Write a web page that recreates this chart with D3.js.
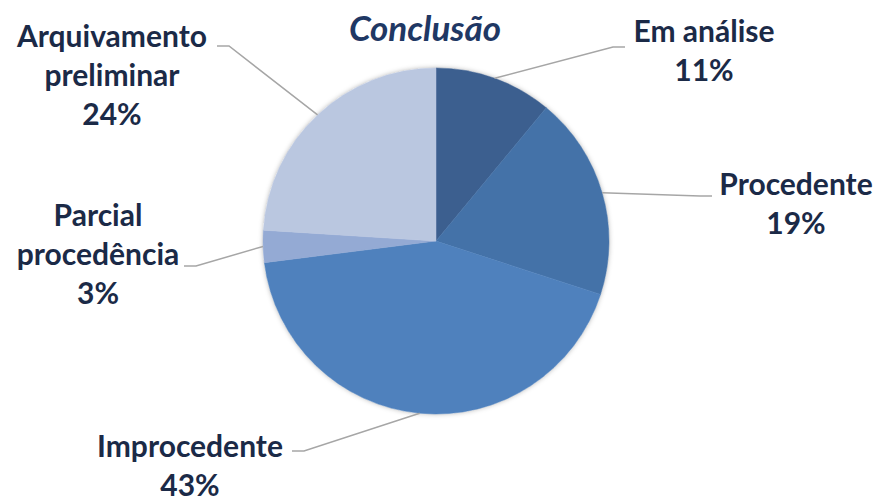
<!DOCTYPE html>
<html>
<head>
<meta charset="utf-8">
<script src="https://cdn.jsdelivr.net/npm/d3@7"></script>
<style>
  body { margin: 0; background: #fff; }
  text { font-family: "Lato", "Open Sans", sans-serif; }
</style>
</head>
<body>
<svg id="chart" width="880" height="502"></svg>
<script>
const WIDTH = 880;
const HEIGHT = 502;

// values, clockwise from 12 o'clock
const categories = ["Em análise", "Procedente", "Improcedente", "Parcial procedência", "Arquivamento preliminar"];
const values = [11, 19, 43, 3, 24];
const colors = ["#3c5f8f", "#4472a8", "#4f81bd", "#94aad4", "#bac7e0"];
// label lines as drawn (category split in lines)
const labelLines = [["Em análise"], ["Procedente"], ["Improcedente"], ["Parcial", "procedência"], ["Arquivamento", "preliminar"]];

// label layout: text centre x, first baseline y, elbow point of leader line
const labelLayout = [
  { x: 704, y: 42, ex: 625, ey: 47, side: "right" },
  { x: 796, y: 195, ex: 712, ey: 196, side: "right" },
  { x: 190, y: 457, ex: 292, ey: 451, side: "left" },
  { x: 98, y: 226, ex: 184, ey: 266, side: "left" },
  { x: 112, y: 47, ex: 217, ey: 46, side: "left" }
];

const CX = 436, CY = 241, R = 173;
const LINE_H = 39;

const svg = d3.select("#chart");

const defs = svg.append("defs");
const f = defs.append("filter").attr("id", "shadow")
  .attr("x", "-10%").attr("y", "-10%").attr("width", "120%").attr("height", "120%");
f.append("feDropShadow").attr("dx", 0).attr("dy", 0).attr("stdDeviation", 2.5)
  .attr("flood-color", "#000").attr("flood-opacity", 0.3);

svg.append("text")
  .attr("x", 425).attr("y", 41)
  .attr("text-anchor", "middle")
  .attr("font-size", 35).attr("font-weight", "bold").attr("font-style", "italic")
  .attr("fill", "#1f3864")
  .text("Conclusão");

const data = categories.map((c, i) => ({ name: c, value: values[i], i }));

const pie = d3.pie().value(d => d.value).sort(null);
const arcs = pie(data);
const arc = d3.arc().innerRadius(0).outerRadius(R);

const g = svg.append("g").attr("transform", `translate(${CX},${CY})`);

g.append("circle").attr("r", R).attr("fill", "#fff").attr("filter", "url(#shadow)");

g.selectAll("path.slice")
  .data(arcs)
  .join("path")
  .attr("class", "slice")
  .attr("d", arc)
  .attr("fill", d => colors[d.data.i])
  .attr("stroke", d => colors[d.data.i])
  .attr("stroke-width", 0.5);

// leader lines
const total = d3.sum(values);
svg.append("g")
  .selectAll("polyline")
  .data(arcs)
  .join("polyline")
  .attr("fill", "none")
  .attr("stroke", "#a6a6a6")
  .attr("stroke-width", 1.5)
  .attr("points", d => {
    const a = (d.startAngle + d.endAngle) / 2;
    const px = CX + R * Math.sin(a), py = CY - R * Math.cos(a);
    const L = labelLayout[d.data.i];
    const hx = L.side === "right" ? L.ex - 12 : L.ex + 12;
    return [[px, py], [hx, L.ey], [L.ex, L.ey]].map(p => p.join(",")).join(" ");
  });

// labels
const labels = svg.append("g")
  .selectAll("text")
  .data(arcs)
  .join("text")
  .attr("text-anchor", "middle")
  .attr("font-size", 30)
  .attr("font-weight", "bold")
  .attr("fill", "#1b2a47");

labels.each(function(d) {
  const L = labelLayout[d.data.i];
  const t = d3.select(this);
  const lines = labelLines[d.data.i].concat([Math.round(d.data.value / total * 100) + "%"]);
  lines.forEach((s, k) => {
    t.append("tspan").attr("x", L.x).attr("y", L.y + k * LINE_H).text(s);
  });
});
</script>
</body>
</html>
